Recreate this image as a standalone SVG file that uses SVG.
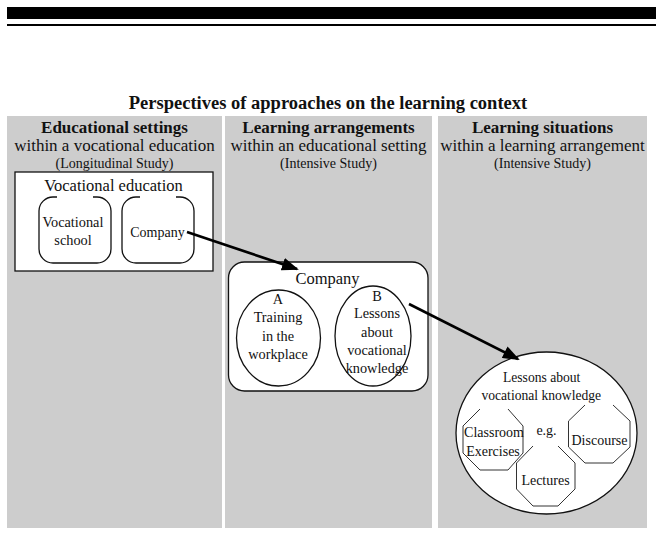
<svg xmlns="http://www.w3.org/2000/svg" width="656" height="534" viewBox="0 0 656 534">
<defs>
<style>
.t{font-family:"Liberation Serif","Times New Roman",serif;fill:#111;text-anchor:middle}
.b{font-weight:bold}
.panel{fill:#cdcdcd}
.box{fill:#fff;stroke:#111;stroke-width:1.3}
.oct{fill:#fff;stroke:#333;stroke-width:1}
.arrow{stroke:#000;stroke-width:2.6;fill:none;marker-end:url(#ah)}
</style>
<marker id="ah" markerUnits="userSpaceOnUse" markerWidth="17" markerHeight="13" refX="15" refY="6.5" orient="auto"><path d="M0,0 L17,6.5 L0,13 Z" fill="#000"/></marker>
</defs>
<rect width="656" height="534" fill="#fff"/>
<rect x="7" y="7" width="649" height="12" fill="#000"/>
<rect x="7" y="24" width="649" height="2" fill="#000"/>
<text class="t b" x="328" y="109" font-size="18.5">Perspectives of approaches on the learning context</text>

<g id="panel-educational-settings">
<rect class="panel" x="7" y="116" width="215" height="412"/>
<text class="t b" x="114.5" y="133" font-size="17">Educational settings</text>
<text class="t" x="114.5" y="151" font-size="17">within a vocational education</text>
<text class="t" x="114.5" y="168" font-size="14">(Longitudinal Study)</text>
</g>
<g id="panel-learning-arrangements">
<rect class="panel" x="225" y="116" width="207" height="412"/>
<text class="t b" x="328.5" y="133" font-size="17">Learning arrangements</text>
<text class="t" x="328.5" y="151" font-size="17">within an educational setting</text>
<text class="t" x="328.5" y="168" font-size="14">(Intensive Study)</text>
</g>
<g id="panel-learning-situations">
<rect class="panel" x="438" y="116" width="209" height="412"/>
<text class="t b" x="542.5" y="133" font-size="17">Learning situations</text>
<text class="t" x="542.5" y="151" font-size="17">within a learning arrangement</text>
<text class="t" x="542.5" y="168" font-size="14">(Intensive Study)</text>
</g>

<g id="vocational-education">
<rect class="box" x="15" y="172" width="198" height="99"/>
<text class="t" x="113.5" y="191" font-size="16.5">Vocational education</text>
</g>
<g id="vocational-school">
<path class="box" d="M57,197 H53 A14 14 0 0 0 39,211 V249 A14 14 0 0 0 53,263 H97 A14 14 0 0 0 111,249 V211 A14 14 0 0 0 97,197 H93"/>
<text class="t" x="73" y="227" font-size="14.3">Vocational</text>
<text class="t" x="73" y="245" font-size="14.3">school</text>
</g>
<g id="company-setting">
<path class="box" d="M140,197 H136 A14 14 0 0 0 122,211 V249 A14 14 0 0 0 136,263 H180 A14 14 0 0 0 194,249 V211 A14 14 0 0 0 180,197 H176"/>
<text class="t" x="157.5" y="237" font-size="14">Company</text>
</g>

<g id="company-arrangement">
<rect class="box" x="228.5" y="262" width="199.5" height="129" rx="16"/>
<text class="t" x="327.5" y="284" font-size="16.5">Company</text>
</g>
<g id="training-workplace">
<ellipse class="box" cx="278.5" cy="338" rx="42" ry="48" stroke-width="1.1"/>
<text class="t" x="278" y="304" font-size="14.3">A</text>
<text class="t" x="278" y="322" font-size="14.3">Training</text>
<text class="t" x="278" y="341" font-size="14.3">in the</text>
<text class="t" x="278" y="359" font-size="14.3">workplace</text>
</g>
<g id="lessons-b">
<ellipse class="box" cx="373" cy="336" rx="38" ry="50" stroke-width="1.1"/>
<text class="t" x="377" y="301" font-size="14.3">B</text>
<text class="t" x="377" y="318" font-size="14.3">Lessons</text>
<text class="t" x="377" y="337" font-size="14.3">about</text>
<text class="t" x="377" y="355" font-size="14.3">vocational</text>
<text class="t" x="377" y="373" font-size="14.3">knowledge</text>
</g>

<g id="lessons-situation">
<ellipse class="box" cx="546.5" cy="433" rx="90.5" ry="81"/>
<text class="t" x="541.7" y="382" font-size="13.6">Lessons about</text>
<text class="t" x="541.3" y="400" font-size="13.6">vocational knowledge</text>
<text class="t" x="546.5" y="435" font-size="14">e.g.</text>
</g>
<g id="classroom-exercises">
<polyline class="oct" points="480,409 463,426 463,453 480,470 508,470 523,453 523,426 508,409"/>
<text class="t" x="494" y="437" font-size="14">Classroom</text>
<text class="t" x="493" y="456" font-size="14">Exercises</text>
</g>
<g id="discourse">
<polyline class="oct" points="585,405 568.5,421 568.5,447 585,463 613,463 630,447 630,421 613,405"/>
<text class="t" x="599.5" y="445" font-size="14">Discourse</text>
</g>
<g id="lectures">
<polyline class="oct" points="533,446 516.5,463 516.5,489 533,506 558,506 575,489 575,463 558,446"/>
<text class="t" x="545.5" y="485" font-size="14">Lectures</text>
</g>

<g id="connectors">
<line class="arrow" x1="187" y1="232" x2="297" y2="269"/>
<line class="arrow" x1="409" y1="304" x2="518" y2="359"/>
</g>
</svg>
